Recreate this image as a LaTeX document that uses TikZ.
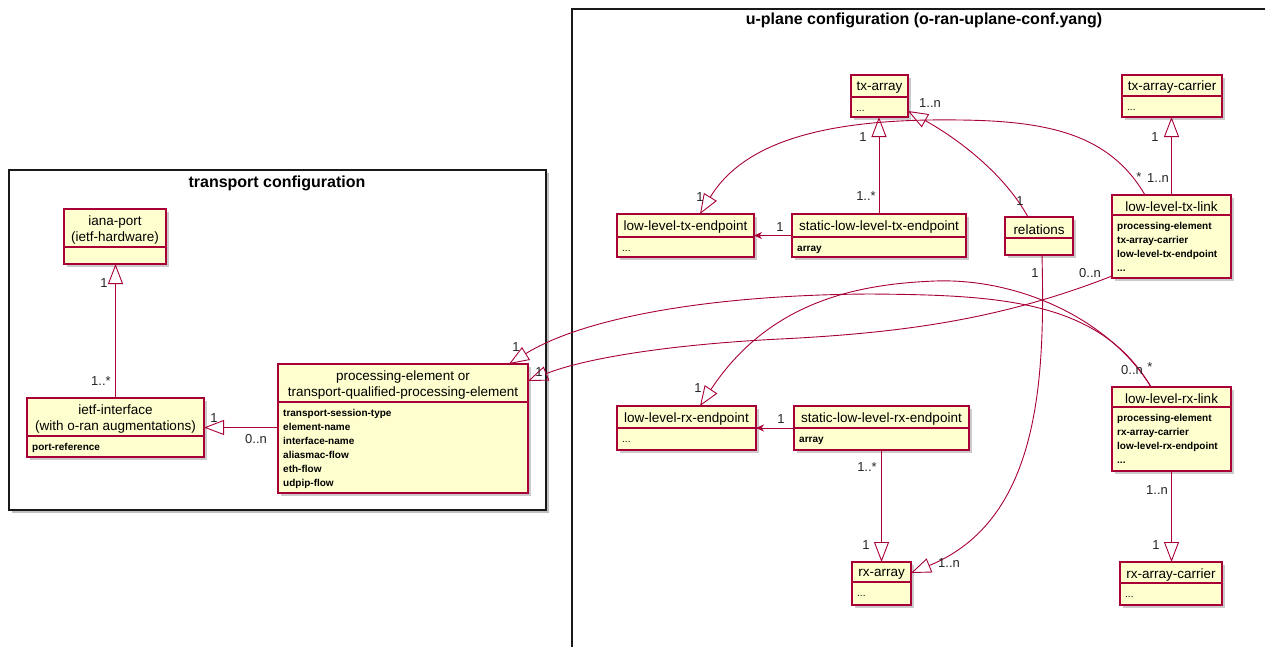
\documentclass[tikz,border=0pt]{standalone}
\usepackage{fontspec}
\setmainfont{Liberation Sans}
\usetikzlibrary{arrows.meta,shadows}
\definecolor{umlred}{HTML}{A80036}
\definecolor{umlfill}{HTML}{FEFECE}
\tikzset{
  umlcls/.style={draw=umlred, line width=1.3pt, fill=umlfill, inner sep=0pt, outer sep=0pt,
    drop shadow={shadow xshift=3pt, shadow yshift=-3pt, fill=black!45, opacity=0.45}},
  umlsep/.style={draw=umlred, line width=1.1pt},
  hdr/.style={font=\fontsize{13.5}{16}\selectfont, align=center, inner sep=0pt, text=black},
  attrs/.style={font=\fontsize{10}{14}\selectfont\bfseries, align=left, inner sep=0pt, anchor=north west},
  lbl/.style={font=\fontsize{13}{15}\selectfont, inner sep=0pt, text=black!85},
  umledge/.style={draw=umlred, line width=0.9pt},
  inh/.style={umledge, -{Triangle[open, length=20pt, width=15pt]}},
  nav/.style={umledge, -{Stealth[length=8pt, width=7pt, inset=2.5pt]}},
  pkg/.style={draw=black!90, line width=1.4pt, fill=white, inner sep=0pt, outer sep=0pt},
  pkgtitle/.style={font=\fontsize{16}{18}\selectfont\bfseries, inner sep=0pt},
}
\newcommand\umlbox[8]{%
  \pgfmathsetmacro\umlX{(#2+#4)/2}%
  \pgfmathsetmacro\umlY{(#3+#5)/2}%
  \pgfmathsetmacro\umlW{#4-#2}%
  \pgfmathsetmacro\umlH{#5-#3}%
  \pgfmathsetmacro\umlHY{(#3+#6)/2+2}%
  \node[umlcls, minimum width=\umlW pt, minimum height=\umlH pt] (#1) at (\umlX,\umlY) {};
  \draw[umlsep] (#2,#6) -- (#4,#6);
  \node[hdr] (#1-h) at (\umlX,\umlHY) {#7};
  \node[attrs] (#1-a) at (#2+5,#6+6.5) {\rule{0pt}{8pt}#8};
}
\begin{document}
\begin{tikzpicture}[x=1pt,y=-1pt]
\useasboundingbox (0,0) rectangle (1265,646);
\fill[white] (0,0) rectangle (1265,646);
\clip (0,0) rectangle (1265,646);

% packages
\node[pkg, minimum width=537pt, minimum height=340pt,
  drop shadow={shadow xshift=3pt, shadow yshift=-3pt, fill=black!50, opacity=0.5}] (tpkg) at (277.5,340) {};
\node[pkgtitle] (tpkg-t) at (277,183) {transport configuration};
\node[pkg, minimum width=728pt, minimum height=691pt] (upkg) at (936,354.5) {};
\node[pkgtitle] (upkg-t) at (924,20) {u-plane configuration (o-ran-uplane-conf.yang)};

% transport classes
\umlbox{iana}{64}{209}{166}{264}{247}{iana-port\\(ietf-hardware)}{}
\umlbox{ietf}{27}{398}{204}{457}{436}{ietf-interface\\(with o-ran augmentations)}{port-reference}
\umlbox{pe}{278}{364}{528}{493}{402}{processing-element or\\transport-qualified-processing-element}{transport-session-type\\element-name\\interface-name\\aliasmac-flow\\eth-flow\\udpip-flow}

% u-plane classes
\umlbox{txa}{851}{75}{908}{117}{97}{tx-array}{\mdseries ...}
\umlbox{txc}{1122}{75}{1222}{117}{96}{tx-array-carrier}{\mdseries ...}
\umlbox{txe}{617}{214}{754}{257}{237}{low-level-tx-endpoint}{\mdseries ...}
\umlbox{stx}{792}{214}{966}{257}{237}{static-low-level-tx-endpoint}{array}
\umlbox{rel}{1005}{217}{1073}{255}{238}{relations}{}
\umlbox{txl}{1112}{195}{1231}{278}{215}{low-level-tx-link}{processing-element\\tx-array-carrier\\low-level-tx-endpoint\\...}
\umlbox{rxe}{617}{406}{756}{450}{428}{low-level-rx-endpoint}{\mdseries ...}
\umlbox{srx}{794}{406}{969}{450}{428}{static-low-level-rx-endpoint}{array}
\umlbox{rxl}{1112}{387}{1231}{471}{407}{low-level-rx-link}{processing-element\\rx-array-carrier\\low-level-rx-endpoint\\...}
\umlbox{rxa}{852}{562}{911}{605}{582}{rx-array}{\mdseries ...}
\umlbox{rxc}{1120}{562}{1222}{605}{583}{rx-array-carrier}{\mdseries ...}

% straight connectors
\draw[inh] (ietf.north) -- (ietf.north |- iana.south);
\draw[inh] (pe.west |- ietf.east) -- (ietf.east);
\draw[inh] (stx.north) -- (stx.north |- txa.south);
\draw[nav] (stx.west) -- (txe.east);
\draw[inh] (txl.north) -- (txl.north |- txc.south);
\draw[nav] (srx.west) -- (rxe.east);
\draw[inh] (srx.south) -- (srx.south |- rxa.north);
\draw[inh] (rxl.south) -- (rxl.south |- rxc.north);

% curved connectors
\draw[inh] ([xshift=33pt]txl.north west) .. controls (1110,135) and (1050,121) .. (960,120)
  .. controls (830,118) and (745,140) .. ([xshift=83pt]txe.north west);
\draw[inh] ([xshift=23pt]rel.north west) .. controls (1005,175) and (960,140) .. ([yshift=6pt]txa.south east);
\draw[inh] ([xshift=37pt]rel.south west) .. controls (1045,380) and (1040,520) .. ([yshift=-11pt]rxa.north east);
\draw[inh] ([yshift=2pt]txl.south west) .. controls (1000,320) and (900,333) .. (780,339)
  .. controls (660,345) and (580,360) .. ([yshift=-17pt]pe.north east);
\draw[inh] ([xshift=39pt]rxl.north west) .. controls (1100,300) and (1000,295) .. (870,294)
  .. controls (700,295) and (580,320) .. ([xshift=-19pt]pe.north east);
\draw[inh] ([xshift=39pt]rxl.north west) .. controls (1110,320) and (1020,278) .. (935,281)
  .. controls (860,284) and (770,300) .. ([xshift=83pt]rxe.north west);

% multiplicity labels
\node[lbl] (m1) at (104,283) {1};
\node[lbl] (m2) at (101,381) {1..*};
\node[lbl] (m3) at (214,418) {1};
\node[lbl] (m4) at (256,439) {0..n};
\node[lbl] (m5) at (516,347) {1};
\node[lbl] (m6) at (539,372) {1};
\node[lbl] (m7) at (863,137) {1};
\node[lbl] (m8) at (866,196) {1..*};
\node[lbl] (m9) at (780,227) {1};
\node[lbl] (m10) at (930,103) {1..n};
\node[lbl] (m11) at (700,197) {1};
\node[lbl] (m12) at (1155,137) {1};
\node[lbl] (m13) at (1139,177) {*};
\node[lbl] (m14) at (1158,178) {1..n};
\node[lbl] (m15) at (1020,201) {1};
\node[lbl] (m16) at (1090,273) {0..n};
\node[lbl] (m17) at (1035,273) {1};
\node[lbl] (m18) at (1132,370) {0..n};
\node[lbl] (m19) at (1150,367) {*};
\node[lbl] (m20) at (698,388) {1};
\node[lbl] (m21) at (781,419) {1};
\node[lbl] (m22) at (867,467) {1..*};
\node[lbl] (m23) at (866,545) {1};
\node[lbl] (m24) at (949,563) {1..n};
\node[lbl] (m25) at (1157,490) {1..n};
\node[lbl] (m26) at (1156,545) {1};
\end{tikzpicture}
\end{document}
